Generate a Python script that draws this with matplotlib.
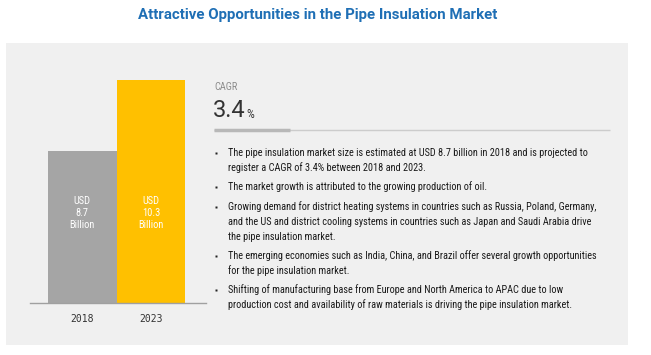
import matplotlib
matplotlib.use('Agg')
import matplotlib.pyplot as plt
from matplotlib import font_manager as fm
from matplotlib.patches import Rectangle
import matplotlib.transforms as mtransforms

# data
years = ['2018', '2023']
market_size = [8.7, 10.3]   # USD billion
cagr = 3.4
title = 'Attractive Opportunities in the Pipe Insulation Market'
bullets = [
    ['The pipe insulation market size is estimated at USD 8.7 billion in 2018 and is projected to',
     'register a CAGR of 3.4% between 2018 and 2023.'],
    ['The market growth is attributed to the growing production of oil.'],
    ['Growing demand for district heating systems in countries such as Russia, Poland, Germany,',
     'and the US and district cooling systems in countries such as Japan and Saudi Arabia drive',
     'the pipe insulation market.'],
    ['The emerging economies such as India, China, and Brazil offer several growth opportunities',
     'for the pipe insulation market.'],
    ['Shifting of manufacturing base from Europe and North America to APAC due to low',
     'production cost and availability of raw materials is driving the pipe insulation market.'],
]
bullet_y = [153, 187, 207, 256, 290]

bar_colors = ['#a5a5a5', '#ffc000']
axis_floor = 5.27   # bars are not drawn from zero in the original


def pick(*names):
    for n in names:
        try:
            fm.findfont(fm.FontProperties(family=n), fallback_to_default=False)
            return n
        except ValueError:
            pass
    return 'DejaVu Sans'


narrow = pick('Liberation Sans Narrow', 'Roboto Condensed', 'Roboto')
W, H = 651, 355

fig = plt.figure(figsize=(W / 100, H / 100), dpi=100)
fig.patch.set_facecolor('white')

# overlay in pixel coords
ov = fig.add_axes([0, 0, 1, 1], zorder=0)
ov.set_xlim(0, W)
ov.set_ylim(H, 0)
ov.axis('off')

ov.add_patch(Rectangle((6, 43), 622, 302, facecolor='#f0f0f0', edgecolor='none'))

renderer = fig.canvas.get_renderer()


def fit(t, width):
    w = t.get_window_extent(renderer).width
    t.set_fontsize(t.get_fontsize() * width / w)


tt = ov.text(318, 15, title, ha='center', va='center', color='#1f6fb5',
             fontsize=10, fontweight='bold', family='Roboto')
fit(tt, 362)

# bars
ax = fig.add_axes([30 / W, (H - 303) / H, 176 / W, (303 - 80) / H], zorder=1)
ax.patch.set_alpha(0)
x = list(range(len(years)))
ax.bar(x, [v - axis_floor for v in market_size], bottom=axis_floor, width=1.0,
       color=bar_colors, edgecolor='none')
ax.set_ylim(axis_floor, max(market_size))
ax.set_xlim(-0.757, 1.80)
for s in ['top', 'right', 'left']:
    ax.spines[s].set_visible(False)
ax.spines['bottom'].set_color('#a0a0a0')
ax.spines['bottom'].set_linewidth(1.0)
ax.set_yticks([])
ax.set_xticks(x)
ax.set_xticklabels(years, fontsize=7, color='#333333', family='DejaVu Sans Mono')
ax.tick_params(axis='x', length=0, pad=8)

trans = mtransforms.blended_transform_factory(ax.transData, ax.transAxes)
for xi, v in zip(x, market_size):
    ax.text(xi, 0.404, f'USD\n{v}\nBillion', transform=trans, ha='center', va='center',
            color='white', fontsize=7.5, family=narrow, linespacing=1.3)

# CAGR block
ov.text(214, 87, 'CAGR', ha='left', va='center', color='#8c8c8c', fontsize=7.5, family=narrow)
t34 = ov.text(213, 117, f'{cagr}', ha='left', va='baseline', color='#333333',
              fontsize=17, family='Roboto')
ov.annotate('%', xy=(1, 0), xycoords=t34, xytext=(0.2, 0.5), textcoords='offset points',
            ha='left', va='bottom', color='#333333', fontsize=9, family=narrow)
ov.plot([214, 610], [130, 130], color='#cccccc', lw=1.0, solid_capstyle='butt')
ov.plot([214, 290], [130, 130], color='#b8b8b8', lw=2.5, solid_capstyle='butt')

# bullet list
lines = []
for item, y0 in zip(bullets, bullet_y):
    ov.plot(215.5, y0, marker='s', ms=2.0, color='#222222', mec='none')
    for k, line in enumerate(item):
        lines.append(ov.text(228, y0 + 15 * k, line, ha='left', va='center',
                             color='#1a1a1a', fontsize=7, family=narrow))
w0 = lines[0].get_window_extent(renderer).width
for t in lines:
    t.set_fontsize(t.get_fontsize() * 363 / w0)

fig.savefig('out.png', dpi=100)
plt.close()
